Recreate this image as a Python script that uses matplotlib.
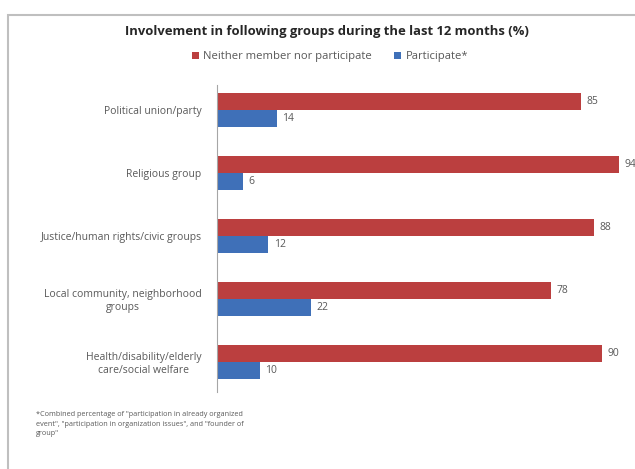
import numpy as np
import matplotlib
matplotlib.use('Agg')
import matplotlib.pyplot as plt
from matplotlib.patches import Rectangle

categories = ['Political union/party', 'Religious group', 'Justice/human rights/civic groups',
              'Local community, neighborhood\ngroups', 'Health/disability/elderly\ncare/social welfare']
neither = [85, 94, 88, 78, 90]
participate = [14, 6, 12, 22, 10]
series_names = ['Neither member nor participate', 'Participate*']
title = 'Involvement in following groups during the last 12 months (%)'
footnote = ('*Combined percentage of "participation in already organized\n'
            'event", "participation in organization issues", and "founder of\n'
            'group"')

red = '#BB3F3F'
blue = '#3F70B8'
grey = '#595959'

plt.rcParams['font.family'] = ['Open Sans', 'DejaVu Sans']

W, H = 635, 469
fig = plt.figure(figsize=(W / 100, H / 100), dpi=100)

# outer chart frame (cut off at right and bottom)
fig.patches.append(Rectangle((8 / W, -0.1), 1.2, 1.1 - 15 / H, transform=fig.transFigure,
                             fill=False, edgecolor='#BFBFBF', linewidth=1.5))

ax = fig.add_axes([217 / W, 1 - 392 / H, 428 / W, (392 - 85) / H])
y = np.arange(len(categories))
h = 0.27
ax.barh(y - h / 2, neither, height=h, color=red, label=series_names[0])
ax.barh(y + h / 2, participate, height=h, color=blue, label=series_names[1])
ax.set_xlim(0, 100)
ax.set_ylim(4.48, -0.4)

for i in range(len(categories)):
    ax.text(neither[i] + 1.3, y[i] - h / 2, str(neither[i]), va='center', ha='left',
            fontsize=7.5, color=grey)
    ax.text(participate[i] + 1.3, y[i] + h / 2, str(participate[i]), va='center', ha='left',
            fontsize=7.5, color=grey)

ax.set_yticks(y)
ax.set_yticklabels(categories, fontsize=7.5, color=grey, multialignment='center')
ax.tick_params(axis='y', length=0, pad=11)
ax.set_xticks([])
for s in ['top', 'right', 'bottom']:
    ax.spines[s].set_visible(False)
ax.spines['left'].set_color('#A6A6A6')

fig.text(327 / W, 1 - 31 / H, title, ha='center', va='center', fontsize=9.4,
         fontweight='bold', color='#262626')
fig.legend(loc='center', bbox_to_anchor=(330 / W, 1 - 57 / H), ncol=2, frameon=False,
           fontsize=8.1, handlelength=0.6, handleheight=0.6, handletextpad=0.4,
           columnspacing=2.0, labelcolor=grey)
fig.text(36 / W, 1 - 424 / H, footnote, ha='left', va='center', fontsize=5.2,
         color=grey, linespacing=1.45)

fig.savefig('out.png', dpi=100)
